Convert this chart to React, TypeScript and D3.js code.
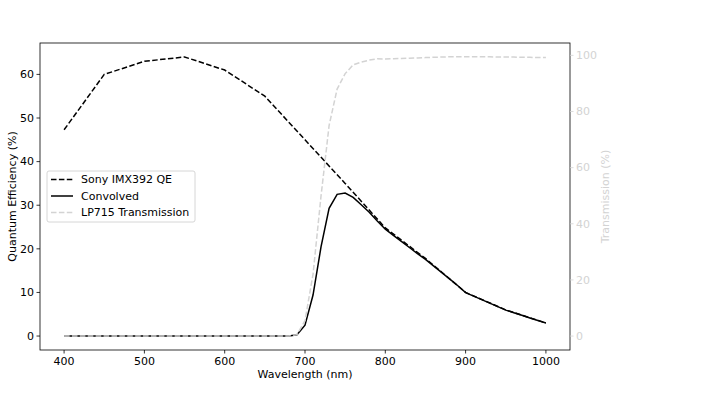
import { useEffect, useRef } from 'react';
import * as d3 from 'd3';

// Sensor QE, sampled every 50 nm
const qeWavelengths = [400, 450, 500, 550, 600, 650, 700, 750, 800, 850, 900, 950, 1000];
const qeValues = [47.3, 60, 63, 64, 61, 55, 45, 35, 24.8, 17.8, 10, 6, 3];

// Filter transmission and convolved response, sampled every 10 nm
const filterWavelengths = d3.range(400, 1001, 10);
const transmissionValues = [
  0, 0, 0, 0, 0, 0, 0, 0, 0, 0, // 400-490
  0, 0, 0, 0, 0, 0, 0, 0, 0, 0, // 500-590
  0, 0, 0, 0, 0, 0, 0, 0, 0, 0.5, // 600-690
  5.5, 22, 50, 75, 88, 93.5, 96.6, 97.6, 98.3, 98.8, // 700-790
  98.7, 98.8, 98.9, 99.0, 99.1, 99.2, 99.3, 99.4, 99.5, 99.5, // 800-890
  99.5, 99.5, 99.5, 99.5, 99.4, 99.4, 99.4, 99.3, 99.3, 99.2, // 900-990
  99.2, // 1000
];
const convolvedValues = [
  0, 0, 0, 0, 0, 0, 0, 0, 0, 0,
  0, 0, 0, 0, 0, 0, 0, 0, 0, 0,
  0, 0, 0, 0, 0, 0, 0, 0, 0, 0.3,
  2.5, 9.4, 20.5, 29.3, 32.5, 32.8, 31.8, 30.1, 28.4, 26.4,
  24.5, 23.1, 21.7, 20.3, 18.9, 17.6, 16.1, 14.6, 13.1, 11.6,
  9.95, 9.15, 8.35, 7.55, 6.75, 5.95, 5.35, 4.75, 4.15, 3.55,
  2.98,
];

const xTicks = [400, 500, 600, 700, 800, 900, 1000];
const qeTicks = [0, 10, 20, 30, 40, 50, 60];
const transmissionTicks = [0, 20, 40, 60, 80, 100];
const legendLabels = ['Sony IMX392 QE', 'Convolved', 'LP715 Transmission'];

const FONT = '"DejaVu Sans", sans-serif';
const FS = 11;
const LIGHT = '#d3d3d3';

export default function App() {
  const ref = useRef<SVGSVGElement>(null);

  useEffect(() => {
    const svgElement = ref.current;
    if (!svgElement) return;
    const svg = d3.select(svgElement);
    svg.selectAll('*').remove();

    const left = 40;
    const right = 570;
    const top = 43;
    const bottom = 350;

    const x = d3.scaleLinear().domain([370, 1030]).range([left, right]);
    const yQe = d3.scaleLinear().domain([-3.2, 67.2]).range([bottom, top]);
    const yT = d3.scaleLinear().domain([-4.97, 104.4]).range([bottom, top]);

    const pts = (ws: number[], vs: number[]) => ws.map((w, i) => [w, vs[i]] as [number, number]);

    const qeLine = d3.line<[number, number]>().x((d) => x(d[0])).y((d) => yQe(d[1]));
    const tLine = d3.line<[number, number]>().x((d) => x(d[0])).y((d) => yT(d[1]));

    const plot = svg.append('g');
    plot
      .append('path')
      .datum(pts(qeWavelengths, qeValues))
      .attr('d', qeLine)
      .attr('fill', 'none')
      .attr('stroke', '#000')
      .attr('stroke-width', 1.5)
      .attr('stroke-dasharray', '5.5,2.4');
    plot
      .append('path')
      .datum(pts(filterWavelengths, convolvedValues))
      .attr('d', qeLine)
      .attr('fill', 'none')
      .attr('stroke', '#000')
      .attr('stroke-width', 1.5);
    plot
      .append('path')
      .datum(pts(filterWavelengths, transmissionValues))
      .attr('d', tLine)
      .attr('fill', 'none')
      .attr('stroke', LIGHT)
      .attr('stroke-width', 1.5)
      .attr('stroke-dasharray', '5.5,2.4');

    // spines
    svg
      .append('rect')
      .attr('x', left)
      .attr('y', top)
      .attr('width', right - left)
      .attr('height', bottom - top)
      .attr('fill', 'none')
      .attr('stroke', '#000')
      .attr('stroke-width', 0.8);

    // bottom axis
    const xAxis = svg.append('g');
    xTicks.forEach((t) => {
      xAxis
        .append('line')
        .attr('x1', x(t))
        .attr('x2', x(t))
        .attr('y1', bottom)
        .attr('y2', bottom + 3.5)
        .attr('stroke', '#000')
        .attr('stroke-width', 0.8);
      xAxis
        .append('text')
        .attr('x', x(t))
        .attr('y', bottom + 15)
        .attr('text-anchor', 'middle')
        .attr('font-size', FS)
        .attr('font-family', FONT)
        .text(t);
    });
    xAxis
      .append('text')
      .attr('x', (left + right) / 2)
      .attr('y', bottom + 28)
      .attr('text-anchor', 'middle')
      .attr('font-size', FS)
      .attr('font-family', FONT)
      .text('Wavelength (nm)');

    // left axis
    const yAxis = svg.append('g');
    qeTicks.forEach((t) => {
      yAxis
        .append('line')
        .attr('x1', left - 3.5)
        .attr('x2', left)
        .attr('y1', yQe(t))
        .attr('y2', yQe(t))
        .attr('stroke', '#000')
        .attr('stroke-width', 0.8);
      yAxis
        .append('text')
        .attr('x', left - 6)
        .attr('y', yQe(t))
        .attr('dy', '0.35em')
        .attr('text-anchor', 'end')
        .attr('font-size', FS)
        .attr('font-family', FONT)
        .text(t);
    });
    yAxis
      .append('text')
      .attr('transform', `translate(16,${(top + bottom) / 2}) rotate(-90)`)
      .attr('text-anchor', 'middle')
      .attr('font-size', FS)
      .attr('font-family', FONT)
      .text('Quantum Efficiency (%)');

    // right axis
    const y2Axis = svg.append('g');
    transmissionTicks.forEach((t) => {
      y2Axis
        .append('line')
        .attr('x1', right)
        .attr('x2', right + 3.5)
        .attr('y1', yT(t))
        .attr('y2', yT(t))
        .attr('stroke', LIGHT)
        .attr('stroke-width', 0.8);
      y2Axis
        .append('text')
        .attr('x', right + 6)
        .attr('y', yT(t))
        .attr('dy', '0.35em')
        .attr('font-size', FS)
        .attr('font-family', FONT)
        .attr('fill', LIGHT)
        .text(t);
    });
    y2Axis
      .append('text')
      .attr('transform', `translate(609,${(top + bottom) / 2}) rotate(-90)`)
      .attr('text-anchor', 'middle')
      .attr('font-size', FS)
      .attr('font-family', FONT)
      .attr('fill', LIGHT)
      .text('Transmission (%)');

    // legend
    const legend = svg.append('g').attr('transform', 'translate(47,171)');
    legend
      .append('rect')
      .attr('width', 148)
      .attr('height', 51)
      .attr('rx', 2)
      .attr('fill', 'rgba(255,255,255,0.8)')
      .attr('stroke', '#ccc')
      .attr('stroke-width', 0.8);
    const styles = [
      { color: '#000', dash: '5.5,2.4' },
      { color: '#000', dash: null },
      { color: LIGHT, dash: '5.5,2.4' },
    ];
    legendLabels.forEach((label, i) => {
      const yy = 8.5 + i * 16.5;
      const l = legend
        .append('line')
        .attr('x1', 4)
        .attr('x2', 26)
        .attr('y1', yy)
        .attr('y2', yy)
        .attr('stroke', styles[i].color)
        .attr('stroke-width', 1.5);
      if (styles[i].dash) l.attr('stroke-dasharray', styles[i].dash);
      legend
        .append('text')
        .attr('x', 34)
        .attr('y', yy)
        .attr('dy', '0.35em')
        .attr('font-size', FS)
        .attr('font-family', FONT)
        .text(label);
    });
  }, []);

  return (
    <svg
      ref={ref}
      width={725}
      height={404}
      style={{ position: 'absolute', left: 0, top: 0, background: '#fff' }}
    />
  );
}
